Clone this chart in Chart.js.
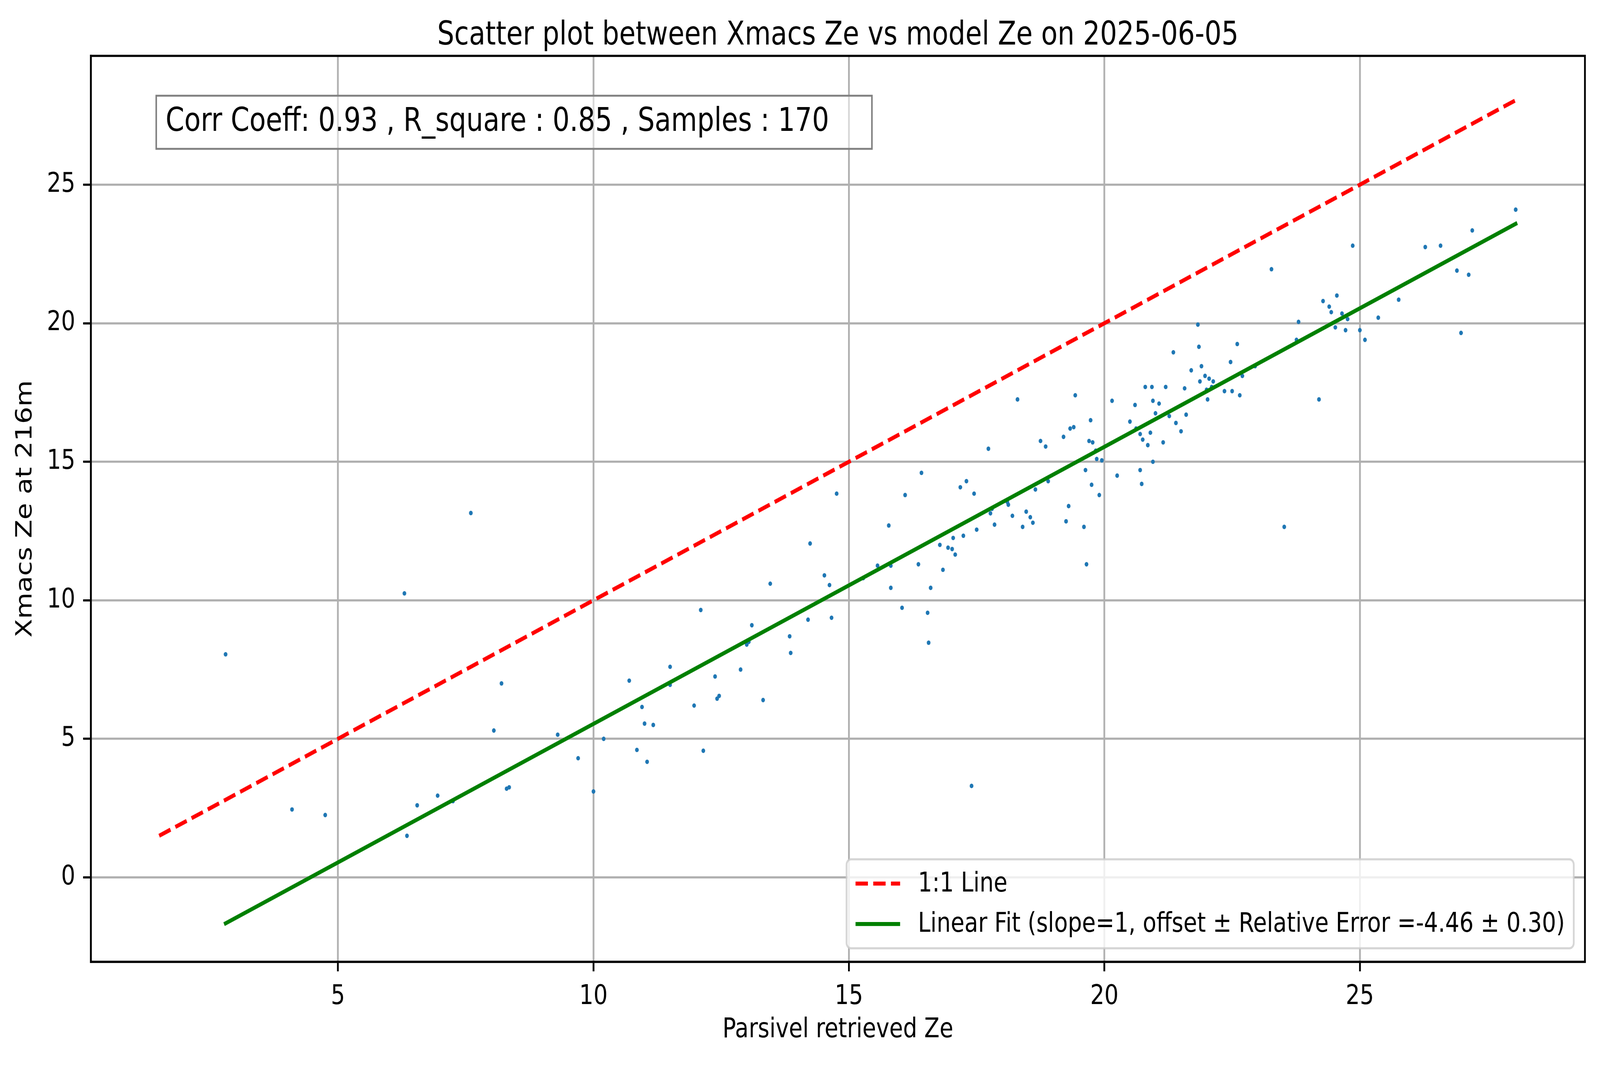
<!DOCTYPE html>
<html>
<head>
<meta charset="utf-8">
<script src="https://cdn.jsdelivr.net/npm/chart.js@4.4.1/dist/chart.umd.min.js"></script>
<style>
  html, body { margin: 0; padding: 0; background: #fff; overflow: hidden; }
  #wrap { width: 4981px; height: 2726px; transform-origin: 0 0; }
</style>
</head>
<body>
<div id="wrap"><canvas id="chart" width="4981" height="2726"></canvas></div>
<script>
'use strict';

// Parsivel retrieved Ze (x) vs Xmacs Ze at 216m (y)
const parsivelZe = [
  2.8, 4.1, 4.75, 6.3, 6.35, 6.55, 6.95, 7.25, 7.6, 8.05, 8.2, 8.3, 8.35, 9.3, 9.7,
  10.0, 10.2, 10.7, 10.85, 10.95, 11.0, 11.05, 11.17, 11.5, 11.5, 11.97, 12.1, 12.15,
  12.38, 12.42, 12.46, 12.88, 13.0, 13.04, 13.1, 13.32, 13.46, 13.84, 13.86, 14.2,
  14.24, 14.52, 14.62, 14.66, 14.76, 15.28, 15.56, 15.78, 15.82, 15.82, 16.04, 16.1,
  16.36, 16.42, 16.54, 16.56, 16.6, 16.78, 16.84, 16.94, 17.02, 17.04, 17.08, 17.18, 17.24,
  17.3, 17.4, 17.45, 17.5, 17.73, 17.77, 17.8, 17.85, 18.1, 18.12, 18.2, 18.3, 18.4,
  18.47, 18.55, 18.6, 18.65, 18.75, 18.85, 18.9, 19.2, 19.25, 19.3, 19.33, 19.4,
  19.43, 19.6, 19.63, 19.65, 19.7, 19.73, 19.75, 19.77, 19.83, 19.85, 19.9, 19.95,
  20.15, 20.25, 20.5, 20.6, 20.62, 20.7, 20.7, 20.73, 20.75, 20.8, 20.85, 20.9,
  20.93, 20.95, 20.95, 21.0, 21.07, 21.15, 21.2, 21.27, 21.35, 21.4, 21.5, 21.57,
  21.6, 21.7, 21.83, 21.85, 21.87, 21.9, 21.97, 22.0, 22.02, 22.05, 22.1, 22.13, 22.35,
  22.47, 22.5, 22.6, 22.65, 22.7, 22.95, 23.27, 23.52, 23.76, 23.8, 24.2, 24.28,
  24.4, 24.44, 24.52, 24.55, 24.65, 24.72, 24.76, 24.86, 25.0, 25.1, 25.36, 25.76,
  26.28, 26.58, 26.9, 26.98, 27.13, 27.2, 28.05
];
const xmacsZe = [
  8.05, 2.45, 2.25, 10.25, 1.5, 2.6, 2.95, 2.75, 13.15, 5.3, 7.0, 3.2, 3.25, 5.15, 4.3,
  3.1, 5.0, 7.1, 4.6, 6.15, 5.55, 4.17, 5.5, 7.6, 6.95, 6.2, 9.65, 4.57,
  7.25, 6.45, 6.55, 7.5, 8.4, 8.5, 9.1, 6.4, 10.6, 8.7, 8.1, 9.3,
  12.05, 10.9, 10.55, 9.37, 13.85, 10.8, 11.25, 12.7, 10.45, 11.25, 9.73, 13.8,
  11.3, 14.6, 9.55, 8.47, 10.45, 12.0, 11.1, 11.9, 11.85, 12.25, 11.65, 14.08, 12.33,
  14.3, 3.3, 13.85, 12.55, 15.47, 13.14, 13.3, 12.73, 13.55, 13.45, 13.05, 17.25, 12.65,
  13.2, 13.0, 12.8, 14.0, 15.75, 15.55, 14.3, 15.9, 12.85, 13.4, 16.2, 16.25,
  17.4, 12.65, 14.7, 11.3, 15.75, 16.5, 14.17, 15.7, 15.4, 15.1, 13.8, 15.05,
  17.2, 14.5, 16.45, 17.05, 16.2, 16.0, 14.7, 14.2, 15.8, 17.7, 15.6, 16.05,
  17.7, 17.2, 15.0, 16.75, 17.1, 15.7, 17.7, 16.65, 18.95, 16.4, 16.1, 17.65,
  16.7, 18.3, 19.95, 19.15, 17.9, 18.45, 18.1, 17.6, 17.25, 18.0, 17.7, 17.9, 17.55,
  18.6, 17.55, 19.25, 17.4, 18.1, 18.45, 21.95, 12.65, 19.4, 20.05, 17.25, 20.8,
  20.6, 20.4, 19.85, 21.0, 20.35, 19.75, 20.15, 22.8, 19.75, 19.4, 20.2, 20.85,
  22.75, 22.8, 21.9, 19.65, 21.75, 23.35, 24.1
];

const xTicks = [5, 10, 15, 20, 25];
const yTicks = [0, 5, 10, 15, 20, 25];
const xRange = [0.164, 29.405];
const yRange = [-3.05, 29.65];

const fitSlope = 1;
const fitOffset = -4.46;
const fitError = 0.30;
const corrCoeff = 0.93;
const rSquare = 0.85;

const titleText = 'Scatter plot between Xmacs Ze vs model Ze on 2025-06-05';
const xLabel = 'Parsivel retrieved Ze';
const yLabel = 'Xmacs Ze at 216m';

const FONT = '"DejaVu Sans", "Liberation Sans", sans-serif';
const PT = 500 / 72; // figure is 4981 x 2726 at 500 dpi

// draw at figure size, then fit the whole figure into the viewport
const wrap = document.getElementById('wrap');
const vw = window.innerWidth || 4981;
const vh = window.innerHeight || 2726;
wrap.style.transform = 'scale(' + (vw / 4981) + ',' + (vh / 2726) + ')';

Chart.defaults.font.family = FONT;
Chart.defaults.color = '#000';

// 1:1 line spans the full range of both series, fit line the x range
const allValues = parsivelZe.concat(xmacsZe);
const lo = Math.min.apply(null, allValues);
const hi = Math.max.apply(null, allValues);
const xLo = Math.min.apply(null, parsivelZe);
const xHi = Math.max.apply(null, parsivelZe);

const points = parsivelZe.map(function (x, i) { return { x: x, y: xmacsZe[i] }; });
const oneToOne = [{ x: lo, y: lo }, { x: hi, y: hi }];
const fitLine = [xLo, xHi].map(function (x) { return { x: x, y: fitSlope * x + fitOffset }; });

const frame = {
  id: 'frame',
  afterDatasetsDraw(chart) {
    const a = chart.chartArea;
    const ctx = chart.ctx;
    ctx.save();
    ctx.strokeStyle = '#000';
    ctx.lineWidth = 0.8 * PT;
    ctx.strokeRect(a.left, a.top, a.right - a.left, a.bottom - a.top);
    ctx.restore();
  }
};

const statsBox = {
  id: 'statsBox',
  afterDraw(chart) {
    const a = chart.chartArea;
    const ctx = chart.ctx;
    const fs = 12 * PT;
    const text = 'Corr Coeff: ' + corrCoeff.toFixed(2) + ' , R_square : ' + rSquare.toFixed(2) +
      ' , Samples : ' + parsivelZe.length;
    ctx.save();
    ctx.font = fs + 'px ' + FONT;
    const tw = ctx.measureText(text).width;
    const tx = a.left + 0.05 * (a.right - a.left);
    const cy = 313;
    const padL = 0.35 * fs;
    const padR = 1.6 * fs;
    const bx = tx - padL;
    const by = cy - 68;
    const bw = tw + padL + padR;
    const bh = 136;
    ctx.fillStyle = 'rgba(255,255,255,0.5)';
    ctx.fillRect(bx, by, bw, bh);
    ctx.strokeStyle = '#808080';
    ctx.lineWidth = 0.7 * PT;
    ctx.strokeRect(bx, by, bw, bh);
    ctx.fillStyle = '#000';
    ctx.textBaseline = 'middle';
    ctx.textAlign = 'left';
    ctx.fillText(text, tx, cy);
    ctx.restore();
  }
};

const boxLegend = {
  id: 'boxLegend',
  afterDraw(chart) {
    const a = chart.chartArea;
    const ctx = chart.ctx;
    const fs = 10 * PT;
    const items = chart.data.datasets.filter(function (d) { return d.inLegend; });
    ctx.save();
    ctx.font = fs + 'px ' + FONT;
    const textW = Math.max.apply(null, items.map(function (d) { return ctx.measureText(d.label).width; }));
    const pad = 0.4 * fs, handle = 2 * fs, gap = 0.8 * fs, rowH = 0.99 * fs, spacing = 0.5 * fs;
    const w = pad * 2 + handle + gap + textW;
    const h = pad * 2 + rowH * items.length + spacing * (items.length - 1);
    const x = a.right - 0.5 * fs - w;
    const y = a.bottom - 0.5 * fs - h;
    ctx.beginPath();
    ctx.roundRect(x, y, w, h, 0.2 * fs);
    ctx.fillStyle = 'rgba(255,255,255,0.8)';
    ctx.fill();
    ctx.strokeStyle = 'rgba(204,204,204,0.8)';
    ctx.lineWidth = 0.8 * PT;
    ctx.stroke();
    items.forEach(function (d, i) {
      const cy = y + pad + rowH / 2 + i * (rowH + spacing);
      ctx.beginPath();
      ctx.setLineDash(d.borderDash || []);
      ctx.lineWidth = d.borderWidth;
      ctx.strokeStyle = d.borderColor;
      ctx.moveTo(x + pad, cy);
      ctx.lineTo(x + pad + handle, cy);
      ctx.stroke();
      ctx.setLineDash([]);
      ctx.fillStyle = '#000';
      ctx.textBaseline = 'middle';
      ctx.fillText(d.label, x + pad + handle + gap, cy + 2);
    });
    ctx.restore();
  }
};

function axisGrid() {
  return {
    color: '#b0b0b0',
    lineWidth: 0.8 * PT,
    drawTicks: true,
    tickLength: 3.5 * PT,
    tickColor: '#000',
    tickWidth: 0.8 * PT
  };
}

const ctx = document.getElementById('chart').getContext('2d');
new Chart(ctx, {
  type: 'scatter',
  data: {
    datasets: [
      {
        label: '1:1 Line',
        inLegend: true,
        data: oneToOne,
        showLine: true,
        borderColor: '#ff0000',
        borderWidth: 1.5 * PT,
        borderDash: [5.55 * PT, 2.4 * PT],
        pointRadius: 0
      },
      {
        label: 'Linear Fit (slope=' + fitSlope + ', offset \u00b1 Relative Error =' + fitOffset.toFixed(2) +
          ' \u00b1 ' + fitError.toFixed(2) + ')',
        inLegend: true,
        data: fitLine,
        showLine: true,
        borderColor: '#008000',
        borderWidth: 1.5 * PT,
        borderCapStyle: 'square',
        pointRadius: 0
      },
      {
        label: 'samples',
        data: points,
        backgroundColor: '#1f77b4',
        borderWidth: 0,
        pointRadius: 5.8
      }
    ]
  },
  options: {
    responsive: false,
    animation: false,
    devicePixelRatio: 1,
    layout: { padding: { left: 0, right: 47, top: 0, bottom: 0 } },
    plugins: {
      legend: { display: false },
      tooltip: { enabled: false },
      title: {
        display: true,
        fullSize: false,
        text: titleText,
        color: '#000',
        font: { size: 12 * PT, weight: 'normal', lineHeight: 1.2 },
        padding: { top: 42, bottom: 1 }
      }
    },
    scales: {
      x: {
        type: 'linear',
        min: xRange[0],
        max: xRange[1],
        afterBuildTicks: function (s) { s.ticks = xTicks.map(function (v) { return { value: v }; }); },
        afterFit: function (s) { s.height = 264; },
        grid: axisGrid(),
        border: { display: true, color: '#000', width: 0.8 * PT },
        ticks: { font: { size: 10 * PT }, padding: 3.5 * PT, color: '#000', maxRotation: 0 },
        title: {
          display: true,
          text: xLabel,
          color: '#000',
          font: { size: 10 * PT, lineHeight: 1.2 },
          padding: { top: 0, bottom: 47 }
        }
      },
      y: {
        type: 'linear',
        min: yRange[0],
        max: yRange[1],
        afterBuildTicks: function (s) { s.ticks = yTicks.map(function (v) { return { value: v }; }); },
        afterFit: function (s) { s.width = 283; },
        grid: axisGrid(),
        border: { display: true, color: '#000', width: 0.8 * PT },
        ticks: { font: { size: 10 * PT }, padding: 3.5 * PT, color: '#000' },
        title: {
          display: true,
          text: yLabel,
          color: '#000',
          font: { size: 10 * PT, lineHeight: 1.2 },
          padding: { top: 38, bottom: 0 }
        }
      }
    }
  },
  plugins: [frame, statsBox, boxLegend]
});
</script>
</body>
</html>
